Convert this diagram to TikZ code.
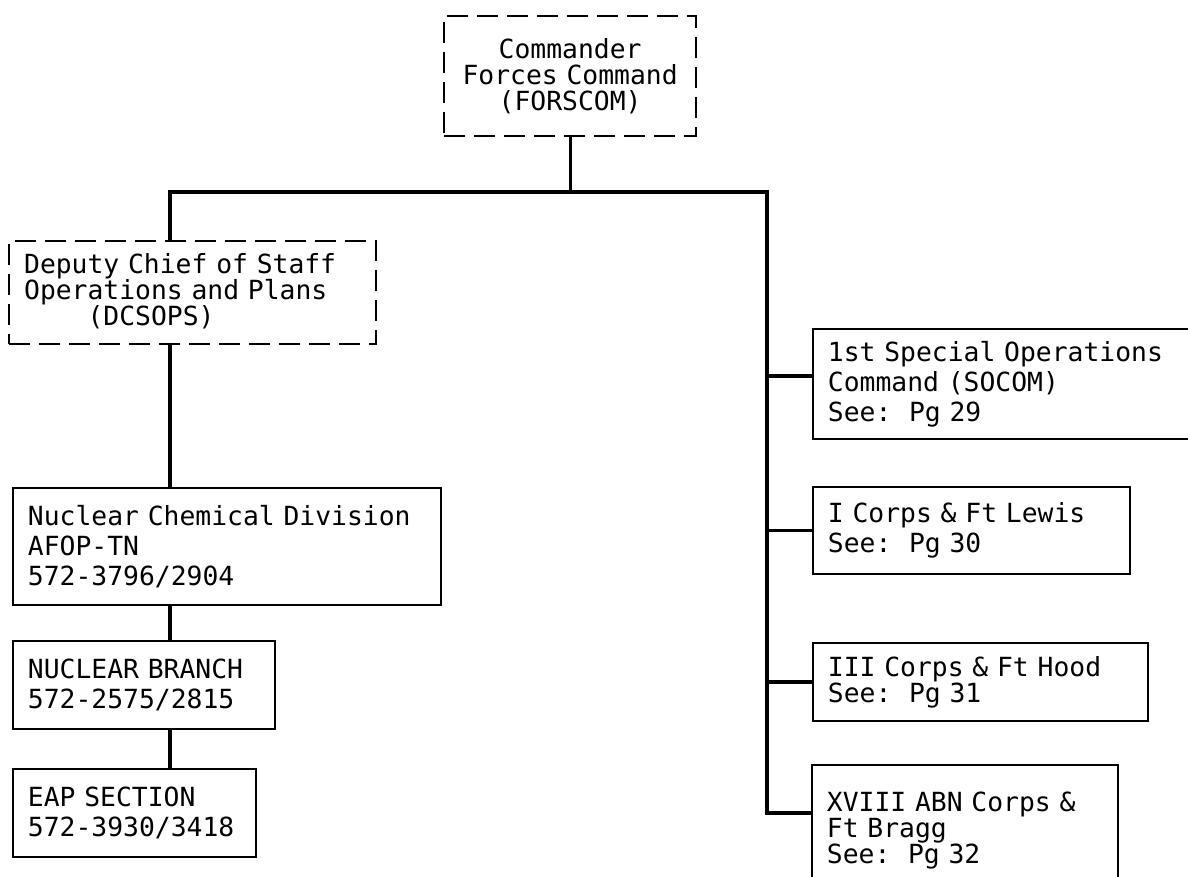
\documentclass[tikz,border=0pt]{standalone}
\usepackage{fontspec}
\setmainfont{DejaVu Sans Mono}

\begin{document}
\begin{tikzpicture}[
  font={\fontsize{15pt}{14.8pt}\selectfont\fontdimen2\font=0.602em\fontdimen3\font=0pt\fontdimen4\font=0pt},
  office/.style={draw=black, line width=1.1pt, fill=white, anchor=north west,
                 align=left, inner xsep=0.3cm, inner ysep=0pt},
  staff/.style={office, dash pattern=on 0.42cm off 0.18cm, line width=1.3pt},
  wide/.style={font={\fontsize{15pt}{17pt}\selectfont}},
  link/.style={draw=black, line width=1.8pt}
]
  \useasboundingbox (0,0) rectangle (23.76,-17.52);
  \clip (0,0) rectangle (23.76,-17.52);

  % headquarters and staff
  \node[staff, align=center, text width=4.44cm, minimum height=2.4cm] (forscom) at (8.86,-0.3)
    {Commander\\Forces Command\\(FORSCOM)};
  \node[staff, text width=6.74cm, minimum height=2.06cm] (dcsops) at (0.16,-4.8)
    {Deputy Chief of Staff\\Operations and Plans\\\phantom{Oper}(DCSOPS)};

  % nuclear chain
  \node[office, wide, text width=7.96cm, minimum height=2.34cm] (ncd) at (0.24,-9.74)
    {Nuclear Chemical Division\\AFOP-TN\\572-3796/2904};
  \node[office, wide, text width=4.64cm, minimum height=1.76cm] (nb) at (0.24,-12.8)
    {NUCLEAR BRANCH\\572-2575/2815};
  \node[office, wide, text width=4.26cm, minimum height=1.76cm] (eap) at (0.24,-15.36)
    {EAP SECTION\\572-3930/3418};

  % subordinate commands
  \node[office, wide, text width=8cm, minimum height=2.2cm] (socom) at (16.24,-6.56)
    {1st Special Operations\\Command (SOCOM)\\See:\ \ Pg 29};
  \node[office, wide, text width=5.74cm, minimum height=1.74cm] (icorps) at (16.24,-9.72)
    {I Corps \& Ft Lewis\\See:\ \ Pg 30};
  \node[office, text width=6.1cm, minimum height=1.56cm] (iiicorps) at (16.24,-12.84)
    {III Corps \& Ft Hood\\See:\ \ Pg 31};
  \node[office, text width=5.52cm, minimum height=2.62cm] (xviii) at (16.22,-15.28)
    {XVIII ABN Corps \&\\Ft Bragg\\See:\ \ Pg 32};

  \coordinate (barL) at (3.4,-3.84);
  \coordinate (barR) at (15.34,-3.84);
  \coordinate (turn) at (15.34,-16.26);
  \coordinate (socomIn) at ([yshift=0.16cm]socom.west);

  \draw[link] (forscom.south) -- (forscom.south |- barL);
  \draw[link] (barL |- dcsops.north) -- (barL) -- (barR) -- (turn) -- (turn -| xviii.west);
  \draw[link] (barL |- dcsops.south) -- (barL |- ncd.north);
  \draw[link] (barL |- ncd.south) -- (barL |- nb.north);
  \draw[link] (barL |- nb.south) -- (barL |- eap.north);
  \draw[link] (barR |- socomIn) -- (socomIn);
  \draw[link] (barR |- icorps.west) -- (icorps.west);
  \draw[link] (barR |- iiicorps.west) -- (iiicorps.west);
\end{tikzpicture}
\end{document}
